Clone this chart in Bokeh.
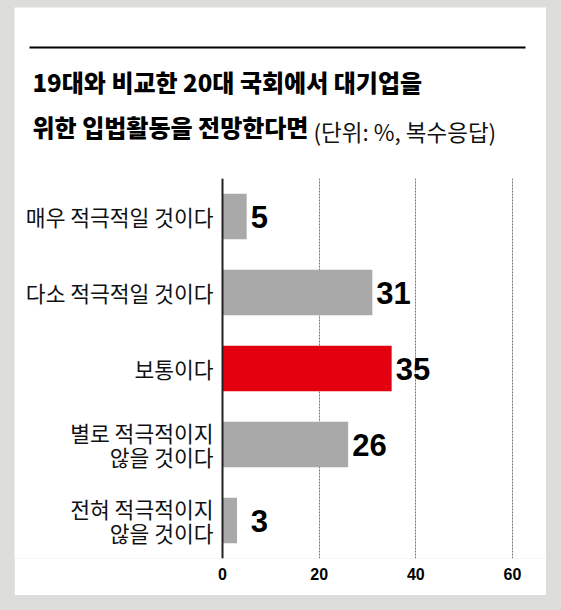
from bokeh.plotting import figure
from bokeh.layouts import column
from bokeh.models import ColumnDataSource, FactorRange, Range1d, Label, BoxAnnotation, FixedTicker, Span
from bokeh.core.properties import value
from bokeh.embed import file_html
from bokeh.resources import INLINE

# data
categories = ["매우 적극적일 것이다", "다소 적극적일 것이다", "보통이다",
              "별로 적극적이지\n않을 것이다", "전혀 적극적이지\n않을 것이다"]
values = [5, 31, 35, 26, 3]
highlight = [False, False, True, False, False]
x_ticks = [0, 20, 40, 60]

title_line1 = "19대와 비교한 20대 국회에서 대기업을"
title_line2 = "위한 입법활동을 전망한다면"
subtitle = "(단위: %, 복수응답)"

KR = "Noto Sans CJK KR"
KR_HEAVY = "Noto Sans CJK KR Black, Noto Sans CJK KR"
NUM = "Liberation Sans"
GRAY_BG = "#dddddb"

# --- heading: the frame is the top part of the white card (coords in px of the card)
head = figure(width=532, height=172, x_range=Range1d(0, 532), y_range=Range1d(-1, 171),
              output_backend="svg", toolbar_location=None, tools="",
              x_axis_location=None, y_axis_location=None,
              min_border_left=0, min_border_right=0, min_border_top=0, min_border_bottom=0,
              margin=(7, 15, 0, 14))
head.grid.visible = False
head.border_fill_color = "white"
head.background_fill_color = "white"
head.outline_line_color = None

head.add_layout(BoxAnnotation(left=15, right=511, bottom=130, top=132,
                              fill_color="black", fill_alpha=1, line_color=None))
head.add_layout(Label(x=18, y=97, text=title_line1, text_font=KR_HEAVY,
                      text_font_style="bold", text_font_size="24px",
                      text_baseline="middle", text_color="black"))
head.add_layout(Label(x=18, y=52, text=title_line2, text_font=KR_HEAVY,
                      text_font_style="bold", text_font_size="24px",
                      text_baseline="middle", text_color="black"))
head.add_layout(Label(x=299, y=48, text=subtitle, text_font=KR,
                      text_font_size="22.5px", text_baseline="middle",
                      text_color="#111111"))

# --- bar chart
source = ColumnDataSource(data=dict(
    cat=categories,
    val=values,
    color=["#e3000f" if h else "#a9a9a9" for h in highlight],
    lx=[max(v, 5) for v in values],
    txt=[str(v) for v in values],
))

chart = figure(width=532, height=417,
               x_range=Range1d(-43.04, 67.04),
               y_range=FactorRange(factors=list(reversed(categories))),
               output_backend="svg", toolbar_location=None, tools="",
               y_axis_location=None,
               min_border_left=0, min_border_right=0,
               min_border_top=0, min_border_bottom=37,
               margin=(-1, 15, 15, 14))
chart.border_fill_color = "white"
chart.background_fill_color = "white"
chart.outline_line_color = None

chart.hbar(y="cat", left=0, right="val", height=0.6, source=source,
           fill_color="color", line_color=None)

# value labels
chart.text(x="lx", y="cat", text="txt", source=source, x_offset=4,
           text_font=value(NUM), text_font_style="bold", text_font_size="31px",
           text_baseline="middle", text_align="left", text_color="black")

# category labels, right aligned against the zero line
chart.text(x=0, y="cat", text="cat", source=source, x_offset=-9,
           text_font=value(KR), text_font_size="21.5px", text_line_height=0.8,
           text_baseline="middle", text_align="right", text_color="#111111")

chart.add_layout(Span(location=0, dimension="height", line_color="#222222", line_width=2))

chart.xaxis.ticker = FixedTicker(ticks=x_ticks)
chart.xaxis.axis_line_color = None
chart.xaxis.major_tick_line_color = None
chart.xaxis.minor_tick_line_color = None
chart.xaxis.major_label_text_font = NUM
chart.xaxis.major_label_text_font_style = "bold"
chart.xaxis.major_label_text_font_size = "16px"
chart.xaxis.major_label_text_color = "black"
chart.xaxis.major_label_standoff = 3

chart.xgrid.ticker = FixedTicker(ticks=x_ticks)
chart.xgrid.grid_line_color = "#777777"
chart.xgrid.grid_line_dash = "2 1"
chart.xgrid.grid_line_width = 1
chart.ygrid.grid_line_color = None

p = column(head, chart, styles={"background-color": GRAY_BG})

open("out.html", "w").write(file_html(p, INLINE))
